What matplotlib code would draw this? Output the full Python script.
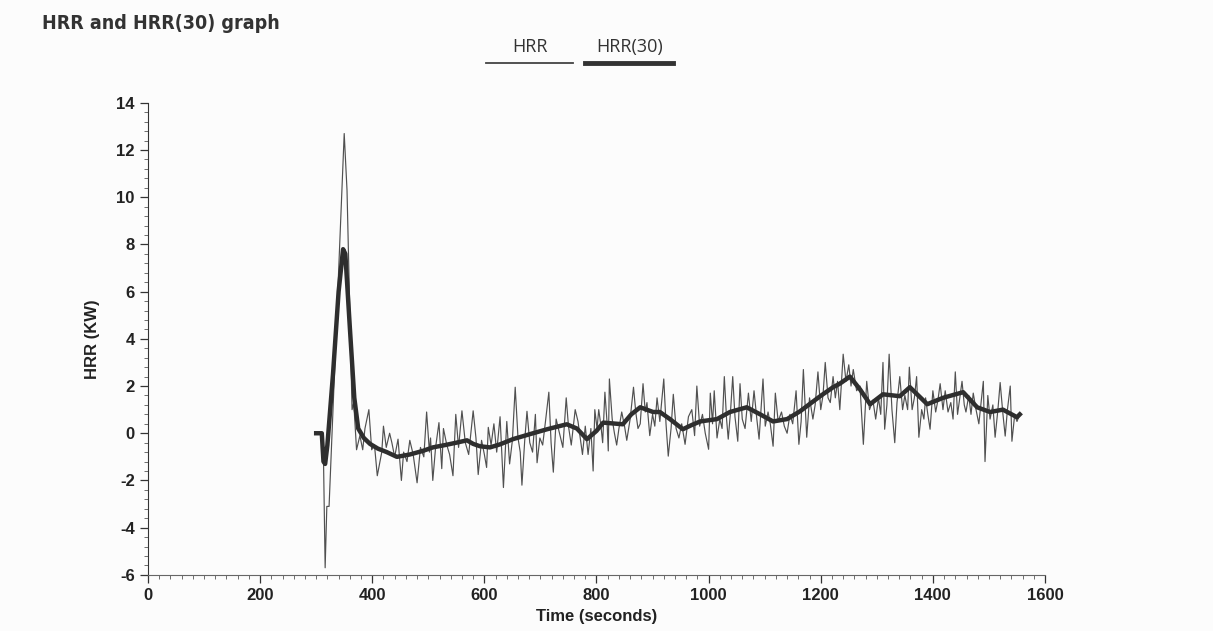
import numpy as np
import matplotlib
matplotlib.use("Agg")
import matplotlib.pyplot as plt
from matplotlib.lines import Line2D
from matplotlib.ticker import MultipleLocator

plt.rcParams["axes.unicode_minus"] = False

# HRR raw signal (time in s, value in kW)
hrr_t = [300, 305, 310, 313, 316, 319, 323, 350, 355, 364, 367, 372, 378, 383, 387, 394, 399, 404,
         409, 413, 417, 420, 425, 431, 435, 440, 446, 452, 456, 462, 467, 473, 480, 486, 492, 497,
         502, 504, 508, 513, 519, 524, 527, 533, 538, 544, 549, 554, 560, 566, 572, 580, 585, 589,
         595, 600, 604, 607, 612, 617, 622, 628, 634, 640, 645, 650, 655, 660, 664, 667, 672, 676,
         681, 686, 691, 694, 699, 704, 709, 715, 719, 723, 728, 733, 740, 746, 750, 755, 762, 767,
         775, 780, 785, 790, 794, 797, 801, 804, 808, 811, 815, 819, 821, 823, 828, 832, 836, 840,
         845, 850, 854, 860, 866, 870, 874, 878, 883, 887, 890, 895, 900, 904, 908, 913, 920, 924,
         928, 933, 937, 942, 947, 952, 958, 964, 970, 975, 979, 984, 989, 994, 1000, 1003, 1007,
         1010, 1015, 1020, 1024, 1028, 1032, 1035, 1039, 1043, 1047, 1052, 1056, 1060, 1065, 1071,
         1076, 1081, 1086, 1090, 1097, 1101, 1106, 1110, 1115, 1119, 1124, 1130, 1135, 1140, 1145,
         1150, 1156, 1161, 1165, 1169, 1175, 1180, 1186, 1190, 1195, 1200, 1204, 1208, 1213, 1217,
         1222, 1226, 1230, 1234, 1240, 1245, 1250, 1254, 1258, 1264, 1270, 1276, 1282, 1287, 1293,
         1298, 1303, 1307, 1311, 1314, 1318, 1322, 1327, 1332, 1336, 1341, 1346, 1350, 1355, 1358,
         1363, 1367, 1371, 1375, 1380, 1384, 1387, 1391, 1395, 1400, 1405, 1409, 1413, 1418, 1422,
         1427, 1432, 1436, 1440, 1444, 1448, 1452, 1456, 1459, 1464, 1468, 1472, 1477, 1482, 1486,
         1490, 1493, 1498, 1502, 1507, 1511, 1516, 1520, 1525, 1529, 1533, 1538, 1541, 1546, 1550,
         1555]
hrr_v = [0.0, 0.0, 0.0, -1.0, -5.7, -3.1, -3.1, 12.7, 10.3, 1.0, 1.3, -0.7, -0.1, -0.7, 0.2, 1.0, -0.7, -0.5,
         -1.8, -1.3, -0.8, 0.3, -0.6, 0.0, -0.4, -1.0, -0.25, -2.0, -0.8, -1.2, -0.3, -0.9, -2.1, -0.6, -1.0, 0.9,
         -0.8, -0.2, -2.0, -0.6, 0.45, -1.5, 0.2, -0.5, -0.9, -1.8, 0.8, -0.6, 0.95, -0.4, -0.9, 0.95, -0.2, -1.75,
         -0.3, -0.9, -1.45, 0.25, -0.5, 0.4, -0.8, 0.7, -2.3, 0.5, -1.3, -0.3, 1.95, -0.2, -0.8, -2.2, -0.3, 0.93,
         -0.4, -0.8, 0.8, -1.25, -0.2, -0.5, 0.5, 1.74, -0.4, -1.65, 0.6, 0.1, -0.6, 1.5, 0.3, -0.5, 1.0, 0.5,
         -0.9, 0.3, -0.9, 0.2, -1.6, 1.0, 0.2, 1.0, 0.3, -0.4, 1.74, 0.4, -0.75, 2.3, 0.6, 0.0, -0.5, 0.2,
         0.9, 0.3, -0.3, 0.6, 1.95, 0.9, 0.2, 0.4, 2.1, 0.9, 1.3, -0.1, 0.8, 0.3, 1.5, 0.5, 2.3, 0.4,
         -0.97, 0.2, 1.65, 0.2, -0.2, 0.4, -0.47, 0.7, 1.0, -0.1, 2.0, 0.3, 0.8, 0.0, -0.68, 1.7, 0.4,
         1.8, -0.2, 0.6, 0.2, 2.4, 0.6, -0.25, 0.9, 2.4, 0.7, -0.34, 2.1, 0.6, 0.2, 1.7,
         0.5, 1.8, 0.6, -0.25, 2.3, 0.3, 0.9, 0.4, -0.55, 1.7, 0.5, 0.9, 0.3, 0.0, 0.8,
         0.4, 1.8, -0.47, 0.5, 2.7, -0.17, 1.5, 0.6, 1.2, 2.6, 1.0, 1.6, 3.0, 1.5, 1.3,
         2.4, 1.5, 2.2, 1.0, 3.35, 2.2, 2.9, 2.0, 2.7, 1.8, 2.0, -0.47, 2.2, 1.0, 1.4,
         0.6, 1.5, 0.8, 3.0, 0.17, 1.2, 3.35, 1.0, -0.4, 1.3, 2.4, 1.0, 1.6, 1.0, 2.8,
         1.0, 1.5, 2.4, -0.17, 1.0, 0.6, 1.5, 0.8, 0.17, 1.8, 0.9, 1.4, 2.1, 1.0, 1.8,
         0.9, 1.3, 0.6, 2.6, 0.8, 1.5, 2.2, 1.2, 0.9, 1.6, 0.8, 1.7, 1.0, 0.4, 1.3,
         2.2, -1.2, 1.6, 0.6, 1.2, -0.17, 1.0, 2.15, 0.8, -0.12, 1.0, 2.0, -0.34, 0.8, 0.5,
         0.8]

# HRR(30) smoothed curve
avg_t = [300, 310, 313, 316, 320, 330, 340, 348, 352, 360, 368, 375, 385, 396, 410, 426, 444, 467,
         490, 508, 530, 550, 569, 580, 592, 610, 628, 651, 681, 712, 747, 765, 783, 800, 812, 847,
         862, 878, 901, 913, 931, 954, 970, 985, 1015, 1038, 1068, 1092, 1115, 1140, 1163, 1199,
         1222, 1234, 1252, 1270, 1288, 1311, 1341, 1359, 1390, 1418, 1454, 1479, 1502, 1525, 1550, 1555]
avg_v = [0.0, 0.0, -1.2, -1.3, -0.5, 2.5, 6.0, 7.8, 7.6, 4.5, 1.5, 0.2, -0.2, -0.45, -0.65, -0.8, -1.0, -0.9,
         -0.75, -0.6, -0.5, -0.4, -0.3, -0.45, -0.55, -0.6, -0.47, -0.25, -0.04, 0.17, 0.38, 0.2, -0.25, 0.1, 0.45, 0.38,
         0.8, 1.1, 0.9, 0.9, 0.6, 0.17, 0.35, 0.5, 0.6, 0.9, 1.1, 0.8, 0.5, 0.6, 0.93, 1.57,
         1.95, 2.1, 2.4, 1.86, 1.23, 1.65, 1.57, 1.95, 1.23, 1.5, 1.74, 1.1, 0.9, 1.0, 0.68, 0.8]

bold = {"family": "Liberation Sans", "weight": "bold"}

fig = plt.figure(figsize=(12.13, 6.31), dpi=100, facecolor="#fcfcfc")
ax = fig.add_axes([0.122, 0.089, 0.7395, 0.748], facecolor="#fcfcfc")

ax.plot(hrr_t, hrr_v, color="#505050", lw=0.85)
ax.plot(avg_t, avg_v, color="#2e2e2e", lw=3.2, solid_joinstyle="round")

ax.set_xlim(0, 1600)
ax.set_ylim(-6, 14)
ax.xaxis.set_major_locator(MultipleLocator(200))
ax.xaxis.set_minor_locator(MultipleLocator(20))
ax.yaxis.set_major_locator(MultipleLocator(2))
ax.yaxis.set_minor_locator(MultipleLocator(0.4))
for s in ["top", "right"]:
    ax.spines[s].set_visible(False)
ax.spines["left"].set_color("#333333")
ax.spines["bottom"].set_color("#666666")
ax.tick_params(which="major", length=6, width=0.9, color="#333333", labelsize=12)
ax.tick_params(which="minor", length=3, width=0.6, color="#555555")
for lab in ax.get_xticklabels() + ax.get_yticklabels():
    lab.set_fontfamily("Liberation Sans")
    lab.set_fontweight("bold")
    lab.set_color("#222222")

ax.set_xlabel("Time (seconds)", fontdict=bold, fontsize=12, color="#222222", labelpad=4)
ax.set_ylabel("HRR (KW)", fontdict=bold, fontsize=12, color="#222222", labelpad=12)

fig.text(0.035, 0.962, "HRR and HRR(30) graph", fontsize=14, fontweight="bold",
         family="DejaVu Sans", color="#333333", va="center", stretch="condensed")

# legend: label above a short line sample
fig.text(0.437, 0.925, "HRR", fontsize=13, family="Open Sans", color="#333333", ha="center", va="center")
fig.add_artist(Line2D([0.401, 0.472], [0.9, 0.9], color="#444444", lw=1.3))
fig.text(0.519, 0.925, "HRR(30)", fontsize=13, family="Open Sans", color="#333333", ha="center", va="center")
fig.add_artist(Line2D([0.482, 0.555], [0.9, 0.9], color="#333333", lw=3.5))

fig.savefig("out.png", dpi=100, facecolor=fig.get_facecolor())
